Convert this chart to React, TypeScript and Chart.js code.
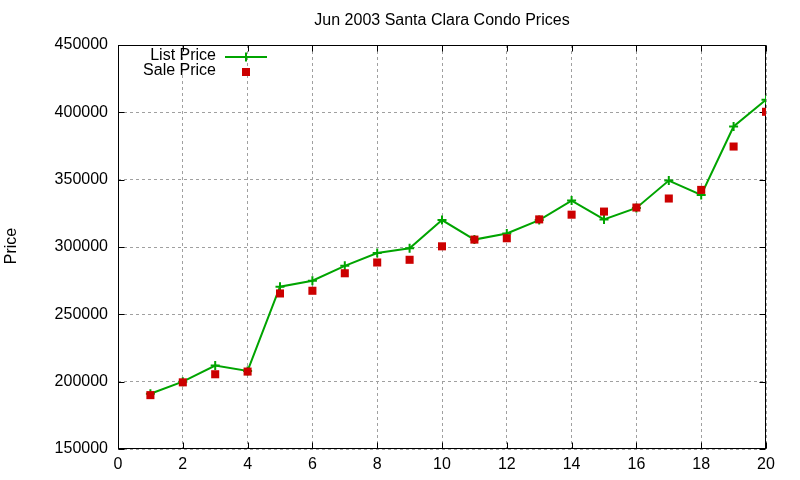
import React, { useEffect, useRef } from "react";
import { Chart, registerables } from "chart.js";

Chart.register(...registerables);

const chartTitle = "Jun 2003 Santa Clara Condo Prices";
const yAxisLabel = "Price";
const seriesNames = ["List Price", "Sale Price"];
const monthDays = [1, 2, 3, 4, 5, 6, 7, 8, 9, 10, 11, 12, 13, 14, 15, 16, 17, 18, 19, 20];
const listPrice = [191000, 200000, 212000, 208000, 270500, 275000, 286000, 295500, 299000, 320000, 305500, 310000, 320000, 334500, 320500, 329000, 349300, 338700, 389500, 409300];
const salePrice = [190000, 199500, 205500, 207500, 265500, 267500, 280500, 288500, 290500, 300500, 305500, 306500, 320500, 324000, 326300, 329300, 336000, 342400, 374600, 400400];
const xMin = 0;
const xMax = 20;
const xStep = 2;
const yMin = 150000;
const yMax = 450000;
const yStep = 50000;

const GREEN = "#00a400";
const RED = "#cc0000";
const FONT = "Liberation Sans, Arial, sans-serif";

const framePlugin = {
  id: "gnuframe",
  beforeDatasetsDraw(chart: any) {
    const { ctx, chartArea: a, scales } = chart;
    const xs = scales.x;
    const ys = scales.y;
    ctx.save();
    ctx.strokeStyle = "#000";
    ctx.lineWidth = 1;
    ctx.beginPath();
    const L = Math.round(a.left) + 0.5;
    const R = Math.round(a.right) - 0.5;
    const T = Math.round(a.top) + 0.5;
    const B = Math.round(a.bottom) - 0.5;
    xs.ticks.forEach((t: any) => {
      const px = Math.round(xs.getPixelForValue(t.value)) + 0.5;
      ctx.moveTo(px, B);
      ctx.lineTo(px, B - 6);
      ctx.moveTo(px, T);
      ctx.lineTo(px, T + 6);
    });
    ys.ticks.forEach((t: any) => {
      const py = Math.round(ys.getPixelForValue(t.value)) + 0.5;
      ctx.moveTo(L, py);
      ctx.lineTo(L + 6, py);
      ctx.moveTo(R, py);
      ctx.lineTo(R - 6, py);
    });
    ctx.stroke();
    ctx.strokeRect(L, T, R - L, B - T);
    ctx.restore();
  },
  afterDraw(chart: any) {
    const { ctx, chartArea: a } = chart;
    ctx.save();
    ctx.fillStyle = "#000";
    ctx.font = `16px ${FONT}`;
    ctx.textBaseline = "middle";
    ctx.textAlign = "center";
    ctx.fillText(chartTitle, (a.left + a.right) / 2, 21);

    ctx.save();
    ctx.translate(12, 246);
    ctx.rotate(-Math.PI / 2);
    ctx.fillText(yAxisLabel, 0, 0);
    ctx.restore();

    // legend
    ctx.textAlign = "right";
    ctx.fillText(seriesNames[0], 216, 56);
    ctx.fillText(seriesNames[1], 216, 71);
    ctx.strokeStyle = GREEN;
    ctx.lineWidth = 2;
    ctx.beginPath();
    ctx.moveTo(225, 57);
    ctx.lineTo(267, 57);
    ctx.moveTo(246, 52.5);
    ctx.lineTo(246, 61.5);
    ctx.stroke();
    ctx.fillStyle = RED;
    ctx.fillRect(242, 68, 8, 8);
    ctx.restore();
  },
};

export default function App() {
  const ref = useRef<HTMLCanvasElement>(null);
  useEffect(() => {
    if (!ref.current) return;
    const chart = new Chart(ref.current, {
      type: "line",
      data: {
        datasets: [
          {
            label: seriesNames[0],
            data: monthDays.map((d, i) => ({ x: d, y: listPrice[i] })),
            borderColor: GREEN,
            backgroundColor: GREEN,
            borderWidth: 2,
            pointStyle: "cross",
            pointRadius: 4.5,
            pointBorderWidth: 2,
            pointBorderColor: GREEN,
            tension: 0,
            order: 2,
          },
          {
            label: seriesNames[1],
            data: monthDays.map((d, i) => ({ x: d, y: salePrice[i] })),
            showLine: false,
            borderColor: RED,
            backgroundColor: RED,
            pointStyle: "rect",
            pointRadius: 5.7,
            pointBorderWidth: 0,
            order: 1,
          },
        ],
      },
      options: {
        responsive: false,
        animation: false,
        devicePixelRatio: 1,
        layout: { padding: { top: 45, right: 34, left: 0, bottom: 0 } },
        plugins: { legend: { display: false }, title: { display: false }, tooltip: { enabled: false } },
        scales: {
          x: {
            type: "linear",
            min: xMin,
            max: xMax,
            afterFit: (s: any) => {
              s.height = 31;
            },
            ticks: { stepSize: xStep, color: "#000", font: { family: FONT, size: 16 }, padding: 6, maxRotation: 0, callback: (v: any) => String(v) },
            grid: { color: "#a0a0a0", drawTicks: false, lineWidth: 1 },
            border: { display: false, dash: [3, 3] },
          },
          y: {
            type: "linear",
            min: yMin,
            max: yMax,
            afterFit: (s: any) => {
              s.width = 118;
            },
            ticks: { stepSize: yStep, color: "#000", font: { family: FONT, size: 16 }, padding: 10, callback: (v: any) => String(v) },
            grid: { color: "#a0a0a0", drawTicks: false, lineWidth: 1 },
            border: { display: false, dash: [3, 3] },
          },
        },
      },
      plugins: [framePlugin],
    });
    return () => chart.destroy();
  }, []);
  return (
    <div style={{ position: "fixed", left: 0, top: 0, width: 800, height: 480, background: "#fff" }}>
      <canvas ref={ref} width={800} height={480} style={{ width: 800, height: 480 }} />
    </div>
  );
}
